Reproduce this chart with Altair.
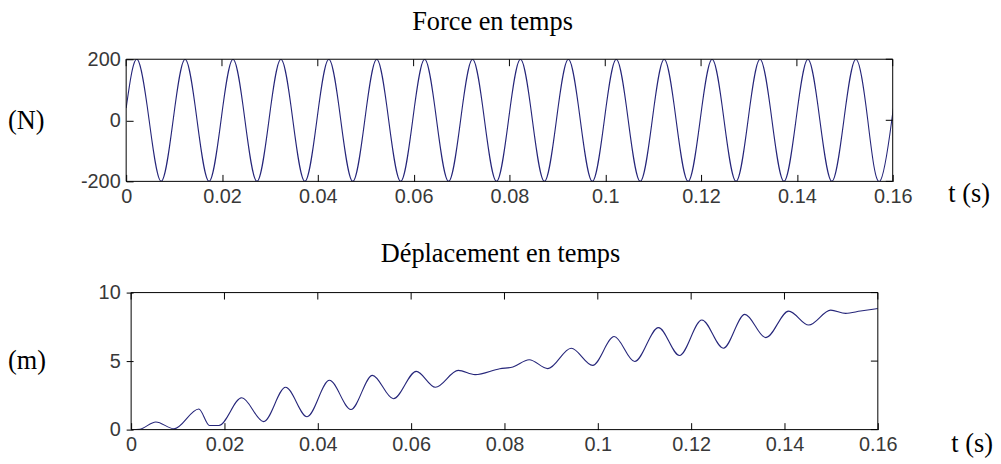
import altair as alt
import pandas as pd

# ---- data ----
force_t = [0.0,
           0.0023, 0.0048, 0.0073, 0.0098,
           0.0123, 0.0148, 0.0173, 0.0198,
           0.0223, 0.0248, 0.0273, 0.0298,
           0.0323, 0.0348, 0.0373, 0.0398,
           0.0423, 0.0448, 0.0473, 0.0498,
           0.0523, 0.0548, 0.0573, 0.0598,
           0.0623, 0.0648, 0.0673, 0.0698,
           0.0723, 0.0748, 0.0773, 0.0798,
           0.0823, 0.0848, 0.0873, 0.0898,
           0.0923, 0.0948, 0.0973, 0.0998,
           0.1023, 0.1048, 0.1073, 0.1098,
           0.1123, 0.1148, 0.1173, 0.1198,
           0.1223, 0.1248, 0.1273, 0.1298,
           0.1323, 0.1348, 0.1373, 0.1398,
           0.1423, 0.1448, 0.1473, 0.1498,
           0.1523, 0.1548, 0.1573, 0.1598,
           0.16]
force_v = [40,
           200, 0, -200, 0,
           200, 0, -200, 0,
           200, 0, -200, 0,
           200, 0, -200, 0,
           200, 0, -200, 0,
           200, 0, -200, 0,
           200, 0, -200, 0,
           200, 0, -200, 0,
           200, 0, -200, 0,
           200, 0, -200, 0,
           200, 0, -200, 0,
           200, 0, -200, 0,
           200, 0, -200, 0,
           200, 0, -200, 0,
           200, 0, -200, 0,
           200, 0, -200, 0,
           20]

disp_t = [0.0, 0.0018, 0.0053, 0.0092, 0.0145, 0.0168, 0.0188, 0.0237, 0.0284,
          0.0331, 0.0377, 0.0425, 0.0471, 0.0517, 0.0562, 0.0611, 0.0652,
          0.0701, 0.0737, 0.0790, 0.0818, 0.0853, 0.0893, 0.0943, 0.0989,
          0.1035, 0.1079, 0.1130, 0.1175, 0.1223, 0.1269, 0.1315, 0.1360,
          0.1409, 0.1452, 0.1499, 0.1531, 0.1563, 0.16]
disp_v = [0.0, 0.03, 0.56, 0.06, 1.5, 0.3, 0.3, 2.32, 0.58,
          3.09, 0.94, 3.6, 1.47, 3.96, 2.25, 4.25, 3.09,
          4.32, 4.01, 4.44, 4.57, 5.1, 4.45, 5.94, 4.69,
          6.79, 4.97, 7.44, 5.41, 8.0, 5.94, 8.41, 6.71,
          8.65, 7.63, 8.72, 8.48, 8.65, 8.84]

x_ticks = [0, 0.02, 0.04, 0.06, 0.08, 0.1, 0.12, 0.14, 0.16]
force_y_ticks = [-200, 0, 200]
disp_y_ticks = [0, 5, 10]
panel_titles = ["Force en temps", "Déplacement en temps"]
unit_labels = ["(N)", "(m)"]
time_label = ["t (s)"]

LINE = "#26267a"
SERIF = "Liberation Serif"
SANS = "Liberation Sans"
FS = 26.5


def text_layer(label, x, y, align):
    return alt.Chart(pd.DataFrame({"label": [label]})).mark_text(
        font=SERIF, fontSize=FS, align=align, baseline="alphabetic", color="black"
    ).encode(x=alt.value(x), y=alt.value(y), text="label:N")


def panel(t, v, yticks, ydom, W, H, x0, title, title_x, title_y,
          unit, ux, uy, tx, ty, interp):
    line_df = pd.DataFrame({"t": t, "v": v})
    xs = alt.Scale(domain=[0, 0.16], range=[x0, W], nice=False, zero=False)
    ys = alt.Scale(domain=ydom, nice=False, zero=False)
    common = dict(domain=False, grid=False, tickSize=7, offset=-7,
                  labelFont=SANS, labelFontSize=20, labelColor="#383838",
                  tickColor="black", tickWidth=1, title=None)
    xaxis = alt.Axis(values=x_ticks, format=".2~f", orient="bottom",
                     labelFlush=False, labelOverlap=False, labelPadding=5,
                     **common)
    yaxis = alt.Axis(values=yticks, orient="left", labelPadding=6,
                     labelOverlap=False, labelExpr="toString(datum.value)",
                     **common)
    frame = alt.Chart(pd.DataFrame({"f": [0]})).mark_rect(
        filled=False, color="black", strokeWidth=1
    ).encode(x=alt.value(x0), x2=alt.value(W), y=alt.value(0), y2=alt.value(H))
    line = alt.Chart(line_df).mark_line(
        color=LINE, strokeWidth=1.1, interpolate=interp, clip=True
    ).encode(
        x=alt.X("t:Q", scale=xs, axis=xaxis),
        y=alt.Y("v:Q", scale=ys, axis=yaxis),
    )
    top_ticks = alt.Chart(pd.DataFrame({"tick": x_ticks})).mark_rule(
        color="black", strokeWidth=1
    ).encode(
        x=alt.X("tick:Q", scale=xs, axis=xaxis),
        y=alt.value(0), y2=alt.value(7),
    )
    right_ticks = alt.Chart(pd.DataFrame({"tick": yticks})).mark_rule(
        color="black", strokeWidth=1
    ).encode(
        y=alt.Y("tick:Q", scale=ys, axis=yaxis),
        x=alt.value(W - 7), x2=alt.value(W),
    )
    return alt.layer(
        line, top_ticks, right_ticks, frame,
        text_layer(title, title_x, title_y, "center"),
        text_layer(unit, ux, uy, "left"),
        text_layer(time_label[0], tx, ty, "left"),
    ).properties(width=W, height=H)


# both panels share the same layout origin on the page;
# the lower plot area begins 5 px further right, as in the reference
top = panel(force_t, force_v, force_y_ticks, [-200, 200], 772, 123, 0,
            panel_titles[0], 369, -29, unit_labels[0], -119, 70, 828, 144,
            "natural")
bottom = panel(disp_t, disp_v, disp_y_ticks, [0, 10], 757, 138, 5,
               panel_titles[1], 377, -31, unit_labels[1], -119, 77, 831, 161,
               "monotone")

chart = alt.vconcat(top, bottom, spacing=33).properties(
    padding={"left": 0, "top": 0, "right": 0, "bottom": 0},
    background="white",
).configure_view(strokeWidth=0)

chart.save("out.html", embed_options={"renderer": "svg", "actions": False})
